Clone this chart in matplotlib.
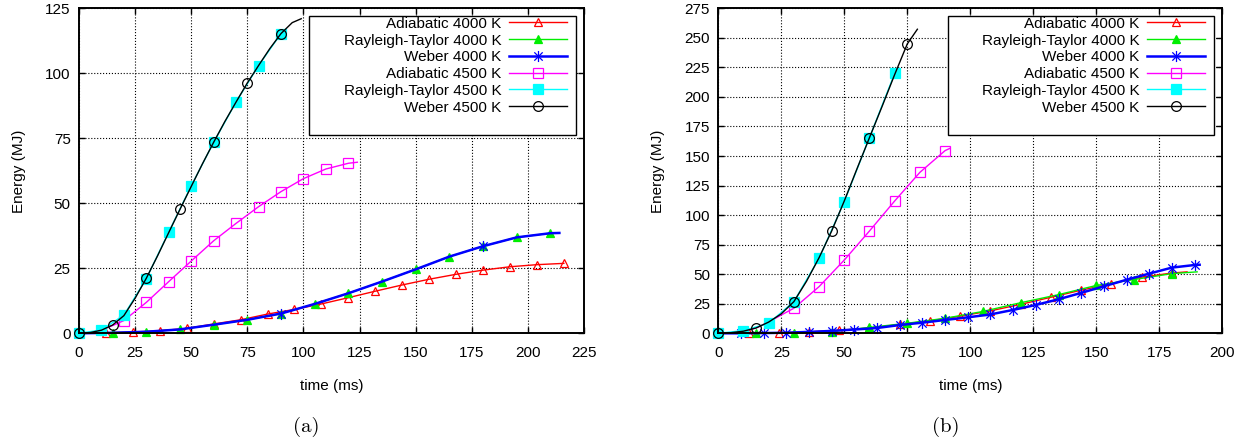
import matplotlib
matplotlib.use("Agg")
import matplotlib.pyplot as plt
from matplotlib.path import Path
from matplotlib.patches import Rectangle

plt.rcParams['font.family'] = ['Liberation Sans', 'DejaVu Sans']
plt.rcParams['font.size'] = 11

labels = ["Adiabatic 4000 K", "Rayleigh-Taylor 4000 K", "Weber 4000 K",
          "Adiabatic 4500 K", "Rayleigh-Taylor 4500 K", "Weber 4500 K"]

# ---- panel (a) ----
t_ad4000_a = [0, 12, 24, 36, 48, 60, 72, 84, 96, 108, 120, 132, 144, 156, 168, 180, 192, 204, 216]
E_ad4000_a = [0, 0.2, 0.5, 1.0, 1.9, 3.6, 5.2, 7.4, 9.2, 11.3, 13.7, 16.2, 18.6, 20.8, 22.7, 24.3, 25.6, 26.4, 26.9]

t_rt4000_a = [0, 15, 30, 45, 60, 75, 90, 105, 120, 135, 150, 165, 180, 195, 210, 214]
E_rt4000_a = [0, 0.2, 0.6, 1.5, 3.3, 5.2, 7.6, 11.3, 15.4, 19.9, 24.6, 29.5, 33.5, 36.9, 38.5, 38.6]

t_wb4000_a = [0, 15, 30, 45, 60, 75, 90, 105, 120, 135, 150, 165, 180, 195, 210, 214]
E_wb4000_a = [0, 0.2, 0.6, 1.5, 3.3, 5.2, 7.6, 11.3, 15.4, 19.9, 24.6, 29.5, 33.5, 36.9, 38.5, 38.6]

t_ad4500_a = [0, 5, 10, 15, 20, 30, 40, 50, 60, 70, 80, 90, 100, 110, 120, 124]
E_ad4500_a = [0, 0.3, 1.2, 3.0, 4.9, 11.9, 19.9, 27.8, 35.6, 42.3, 48.7, 54.5, 59.5, 63.2, 65.4, 65.8]

t_rt4500_a = [0, 10, 20, 30, 40, 50, 60, 70, 80, 90]
E_rt4500_a = [0, 1.3, 7.0, 21.0, 39.0, 56.7, 73.5, 89.0, 103.0, 115.3]

t_wb4500_a = [0, 5, 10, 15, 20, 25, 30, 35, 40, 45, 50, 55, 60, 65, 70, 75, 80, 85, 90, 95, 99]
E_wb4500_a = [0, 0.3, 1.2, 3.2, 6.8, 13.5, 21.2, 29.8, 38.8, 47.7, 56.5, 65.2, 73.5, 81.5, 89.0, 96.3,
              103.0, 109.5, 115.3, 119.5, 121.0]

# ---- panel (b) ----
t_ad4000_b = [0, 12, 24, 36, 48, 60, 72, 84, 96, 108, 120, 132, 144, 156, 168, 180, 186]
E_ad4000_b = [0, 0, 0.5, 1.2, 2.6, 4.5, 7.5, 10.5, 14.5, 19, 24.5, 30.5, 36.5, 42, 47.5, 51, 52]

t_rt4000_b = [0, 15, 30, 45, 60, 75, 90, 105, 120, 135, 150, 165, 180, 190]
E_rt4000_b = [0, 0, 0.5, 1.4, 5, 8.5, 12.7, 18.5, 25.9, 32.7, 40.5, 45.5, 50.5, 52]

t_wb4000_b = [0, 9, 18, 27, 36, 45, 54, 63, 72, 81, 90, 99, 108, 117, 126, 135, 144, 153, 162, 171,
              180, 189, 191]
E_wb4000_b = [0, 0, 0.2, 0.5, 1.2, 2, 3.2, 4.5, 7, 9, 11.3, 13.5, 16, 19.8, 24, 28.8, 34.2, 39.8, 45.3,
              50.5, 55.6, 57.8, 58]

t_ad4500_b = [0, 5, 10, 15, 20, 25, 30, 40, 50, 60, 70, 80, 90, 92]
E_ad4500_b = [0, 0.5, 1.8, 4.5, 9.5, 15.5, 21.2, 39.5, 62, 86.6, 112, 136.2, 154.6, 156.6]

t_rt4500_b = [0, 10, 20, 30, 40, 50, 60, 70]
E_rt4500_b = [0, 2.3, 8.5, 26.8, 63.5, 111.4, 165.6, 220]

t_wb4500_b = [0, 5, 10, 15, 20, 25, 30, 35, 40, 45, 50, 55, 60, 65, 70, 75, 79]
E_wb4500_b = [0, 0.5, 1.8, 4.5, 9.5, 16.5, 26.8, 44, 64, 86.6, 112, 139, 165.6, 192, 219, 244.9, 257.3]

# asterisk like gnuplot: vertical bar plus an x
star = Path([(0, -1), (0, 1), (-0.75, -0.75), (0.75, 0.75), (-0.75, 0.75), (0.75, -0.75)],
            [Path.MOVETO, Path.LINETO] * 3)

styles = [
    dict(color='#ff0000', marker='^', mfc='none', ms=6.0, lw=1.0),
    dict(color='#00ee00', marker='^', mfc='#00ee00', ms=6.0, lw=1.0),
    dict(color='#0000ff', marker=star, mfc='none', ms=8.0, lw=1.8),
    dict(color='#ff00ff', marker='s', mfc='none', ms=6.6, lw=1.0),
    dict(color='#00ffff', marker='s', mfc='#00ffff', ms=7.0, lw=1.0),
    dict(color='black', marker='o', mfc='none', ms=7.0, lw=1.0),
]


def draw_panel(ax, series, marks, xmax, ymax, caption):
    for (t, e), mk, st, lab in zip(series, marks, styles, labels):
        ax.plot(t, e, label=lab, markevery=mk, mew=0.9, clip_on=False, **st)
    ax.set_xlim(0, xmax)
    ax.set_ylim(0, ymax)
    ax.set_xticks(range(0, xmax + 1, 25))
    ax.set_yticks(range(0, ymax + 1, 25))
    ax.grid(True, color='black', linestyle=':', linewidth=0.8)
    ax.set_axisbelow(True)
    for sp in ax.spines.values():
        sp.set_linewidth(1.4)
    ax.tick_params(direction='in', length=4, top=True, right=True, width=1)
    ax.tick_params(axis='x', pad=9)
    ax.tick_params(axis='y', pad=6)
    ax.set_xlabel("time (ms)", labelpad=14)
    ax.set_ylabel("Energy (MJ)", labelpad=14)
    # legend with a white box like gnuplot's key
    ax.add_patch(Rectangle((0.456, 0.61), 0.528, 0.366, transform=ax.transAxes,
                           facecolor='white', edgecolor='black', lw=1.0, zorder=4))
    leg = ax.legend(loc='upper right', bbox_to_anchor=(0.966, 0.974), markerfirst=False,
                    frameon=False, borderpad=0, borderaxespad=0, handlelength=3.8,
                    handletextpad=0.5, labelspacing=0.18, fontsize=11)
    leg.set_zorder(5)
    pos = ax.get_position()
    fig.text(pos.x0 + pos.width / 2 - 0.02, 0.04, caption, ha='center', va='center',
             fontsize=15, family='cmr10')


fig = plt.figure(figsize=(12.52, 4.45), dpi=100)
ax_a = fig.add_axes([0.0631, 0.251, 0.4034, 0.7303])
ax_b = fig.add_axes([0.5737, 0.251, 0.4026, 0.7303])

series_a = [(t_ad4000_a, E_ad4000_a), (t_rt4000_a, E_rt4000_a), (t_wb4000_a, E_wb4000_a),
            (t_ad4500_a, E_ad4500_a), (t_rt4500_a, E_rt4500_a), (t_wb4500_a, E_wb4500_a)]
marks_a = [slice(1, 19), slice(1, 15), [6, 12], slice(4, 15), slice(0, 10), slice(0, 19, 3)]
draw_panel(ax_a, series_a, marks_a, 225, 125, "(a)")

series_b = [(t_ad4000_b, E_ad4000_b), (t_rt4000_b, E_rt4000_b), (t_wb4000_b, E_wb4000_b),
            (t_ad4500_b, E_ad4500_b), (t_rt4500_b, E_rt4500_b), (t_wb4500_b, E_wb4500_b)]
marks_b = [slice(1, 16), slice(1, 13), slice(1, 22), slice(6, 13), slice(0, 8), slice(0, 16, 3)]
draw_panel(ax_b, series_b, marks_b, 200, 275, "(b)")

fig.savefig("out.png", dpi=100)
